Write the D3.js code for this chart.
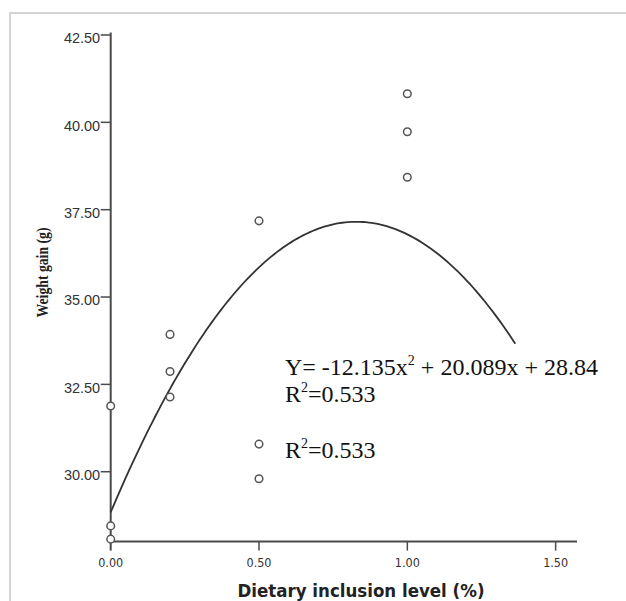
<!DOCTYPE html>
<html><head><meta charset="utf-8">
<script src="https://cdn.jsdelivr.net/npm/d3@7"></script>
<style>body{margin:0;background:#fff}svg{display:block}</style>
</head><body>
<svg id="c" width="626" height="601"></svg>
<script>
// Data
const xValues = [0, 0, 0, 0.2, 0.2, 0.2, 0.5, 0.5, 0.5, 1.0, 1.0, 1.0];
const yValues = [31.88, 28.45, 28.07, 33.93, 32.87, 32.14, 37.18, 30.79, 29.80, 40.82, 39.73, 38.43];
const coefA = -12.135, coefB = 20.089, coefC = 28.84;
const fitRange = [0, 1.364];
const xTicks = [0, 0.5, 1.0, 1.5];
const yTicks = [30, 32.5, 35, 37.5, 40, 42.5];
const xTitle = "Dietary inclusion level (%)";
const yTitle = "Weight gain (g)";

const svg = d3.select("#c");
// frame
svg.append("rect").attr("x",10).attr("y",13).attr("width",700).attr("height",700)
  .attr("fill","none").attr("stroke","#d4d4d4").attr("stroke-width",2);

const x = d3.scaleLinear().domain([0, 1.572]).range([110.7, 577]);
const y = d3.scaleLinear().domain([28, 42.5]).range([541.6, 35]);

const axisColor = "#4a4a4a";
// y axis line
svg.append("line").attr("x1",x(0)).attr("x2",x(0)).attr("y1",y(42.5)-2.5).attr("y2",y(28))
  .attr("stroke",axisColor).attr("stroke-width",2);
// x axis line
svg.append("line").attr("x1",x(0)).attr("x2",x(1.572)).attr("y1",y(28)).attr("y2",y(28))
  .attr("stroke",axisColor).attr("stroke-width",2);

// y ticks
const yt = svg.append("g");
yTicks.forEach(t=>{
  yt.append("line").attr("x1",x(0)-10).attr("x2",x(0)).attr("y1",y(t)).attr("y2",y(t))
    .attr("stroke",axisColor).attr("stroke-width",1.5);
  yt.append("text").attr("x",x(0)-10.5).attr("y",y(t)+8.3).attr("text-anchor","end")
    .attr("font-family","Liberation Sans, Arial, sans-serif").attr("font-size",14.5)
    .attr("fill","#333").text(d3.format(".2f")(t));
});
// x ticks
const xt = svg.append("g");
xTicks.forEach(t=>{
  xt.append("line").attr("x1",x(t)).attr("x2",x(t)).attr("y1",y(28)).attr("y2",y(28)+9)
    .attr("stroke",axisColor).attr("stroke-width",t===0?2:1.5);
  xt.append("text").attr("x",x(t)).attr("y",y(28)+25).attr("text-anchor","middle")
    .attr("font-family","DejaVu Sans Condensed, DejaVu Sans, sans-serif").attr("font-size",12.5)
    .attr("fill","#333").text(d3.format(".2f")(t));
});

// titles
svg.append("text").attr("x",361).attr("y",596.5).attr("text-anchor","middle")
  .attr("font-family","DejaVu Sans Condensed, DejaVu Sans, sans-serif").attr("font-weight","bold")
  .attr("font-size",18.5).attr("fill","#222").text(xTitle);
svg.append("text").attr("transform","translate(48,272.5) rotate(-90)").attr("text-anchor","middle")
  .attr("font-family","Liberation Serif, Times New Roman, serif").attr("font-weight","bold")
  .attr("font-size",17).attr("textLength",90).attr("lengthAdjust","spacingAndGlyphs")
  .attr("fill","#222").text(yTitle);

// fit curve
const fx = d3.range(fitRange[0], fitRange[1]+1e-9, 0.01);
fx.push(fitRange[1]);
const line = d3.line().x(d=>x(d)).y(d=>y(coefA*d*d+coefB*d+coefC));
svg.append("path").datum(fx).attr("d",line).attr("fill","none")
  .attr("stroke","#333").attr("stroke-width",1.8);

// points
svg.append("g").selectAll("circle").data(xValues.map((v,i)=>[v,yValues[i]])).join("circle")
  .attr("cx",d=>x(d[0])).attr("cy",d=>y(d[1])).attr("r",3.8)
  .attr("fill","#fff").attr("stroke","#555").attr("stroke-width",1.5);

// annotation
const ann = svg.append("g").attr("font-family","Liberation Serif, Times New Roman, serif")
  .attr("font-size",24).attr("fill","#111");
const t1 = ann.append("text").attr("x",285).attr("y",375);
t1.append("tspan").text("Y= " + coefA + "x");
t1.append("tspan").attr("font-size",14).attr("dy",-10).text("2");
t1.append("tspan").attr("dy",10).text(" + " + coefB + "x + " + coefC);
const t2 = ann.append("text").attr("x",285).attr("y",402);
t2.append("tspan").text("R");
t2.append("tspan").attr("font-size",14).attr("dy",-10).text("2");
t2.append("tspan").attr("dy",10).text("=0.533");
const t3 = ann.append("text").attr("x",285).attr("y",458);
t3.append("tspan").text("R");
t3.append("tspan").attr("font-size",14).attr("dy",-10).text("2");
t3.append("tspan").attr("dy",10).text("=0.533");
</script>
</body></html>
